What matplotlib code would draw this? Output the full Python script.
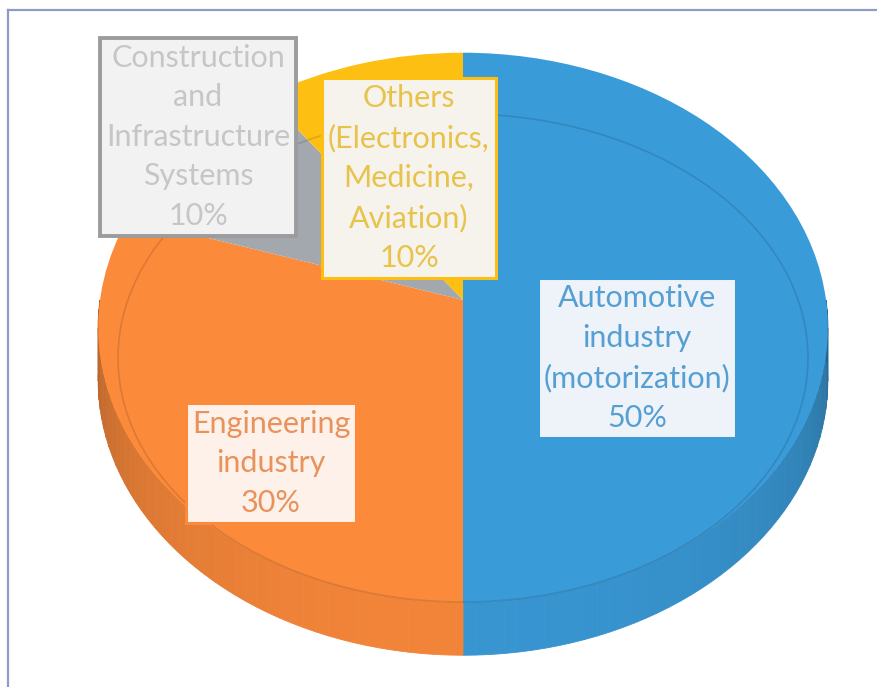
import numpy as np
import matplotlib.pyplot as plt
from matplotlib.lines import Line2D
from matplotlib.patches import Ellipse
from matplotlib.transforms import Transform

# market share of the material by application sector
sectors = ["Automotive\nindustry\n(motorization)",
           "Engineering\nindustry",
           "Construction\nand\nInfrastructure\nSystems",
           "Others\n(Electronics,\nMedicine,\nAviation)"]
shares = [50, 30, 10, 10]

slice_colors = ["#3a9bd9", "#fc8a3b", "#a3a8ae", "#fdbf12"]
text_colors = ["#559fd3", "#e8925c", "#c6c6c6", "#e8c34c"]
box_fills = ["#eef3f9", "#fdf1ea", "#f2f2f2", "#f6f3ec"]
box_edges = ["#3a9bd9", "#fc8a3b", "#9c9c9c", "#fdbf12"]
# label centres in pixel coordinates of the canvas
label_xy = [(637, 358), (271, 463), (198, 137), (409, 178)]

# tilted-disc geometry (pixels)
CX, CY = 463, 300       # where the disc centre lands
RX, RY = 363, 272       # half-axes before foreshortening
TILT = 0.1              # perspective strength
DEPTH = 53              # height of the side wall


class TiltedDisc(Transform):
    """Maps unit-pie coordinates onto a disc seen from above at an angle."""
    input_dims = output_dims = 2
    is_separable = False
    has_inverse = False

    def __init__(self, drop=0):
        super().__init__()
        self.drop = drop

    def transform_non_affine(self, values):
        v = np.asarray(values, float)
        x, y = v[:, 0], v[:, 1]
        s = 1.0 / (1.0 + TILT * y)
        return np.column_stack([CX + RX * x * s, CY - RY * y * s + self.drop])


def shade(color, f):
    rgb = np.array(plt.matplotlib.colors.to_rgb(color))
    return tuple(np.clip(rgb * f, 0, 1))


plt.rcParams["font.family"] = ["Lato", "DejaVu Sans"]

fig = plt.figure(figsize=(8.78, 6.87), dpi=100)
ax = fig.add_axes([0, 0, 1, 1])

wedges, _ = ax.pie(shares, colors=slice_colors, startangle=90, counterclock=False,
                   radius=1, wedgeprops=dict(linewidth=0), normalize=True)
top = TiltedDisc()
low = TiltedDisc(DEPTH)
for w in wedges:
    w.set_transform(top + ax.transData)
    w.set_zorder(3)

# side wall: only the front half (180..360 deg) can be seen
for w, c in zip(wedges, slice_colors):
    t1, t2 = w.theta1 % 360, w.theta2 % 360
    if t2 <= t1:
        t2 += 360
    for off in (0, 360, -360):
        a, b = max(t1 + off, 180), min(t2 + off, 360)
        if b <= a:
            continue
        steps = np.linspace(a, b, int((b - a) / 2) + 2)
        for s0, s1 in zip(steps[:-1], steps[1:]):
            th = np.radians(np.linspace(s0, s1, 6))
            rim = np.column_stack([np.cos(th), np.sin(th)])
            upper = top.transform(rim)
            lower = low.transform(rim[::-1])
            poly = np.vstack([upper, lower])
            mid = np.radians((s0 + s1) / 2)
            col = shade(c, 0.6 + 0.36 * abs(np.sin(mid)) ** 0.5)
            ax.fill(poly[:, 0], poly[:, 1], color=col, lw=0.6, ec=col, zorder=1)

# faint bevel line on the top face
ax.add_patch(Ellipse((463, 358), 690, 488, fill=False, ec="#000000",
                     alpha=0.12, lw=1.2, zorder=4))

labels = []
for name, pct, xy, tc, fc, ec in zip(sectors, shares, label_xy, text_colors,
                                     box_fills, box_edges):
    t = ax.text(xy[0], xy[1], f"{name}\n{pct}%", ha="center", va="center",
                fontsize=22, color=tc, linespacing=1.5, zorder=6,
                bbox=dict(boxstyle="square,pad=0.2", fc=fc, ec=ec,
                          lw=2.8 if ec == "#9c9c9c" else 2.2))
    labels.append(t)

# small callout tip under the "Others" label, pointing at the disc centre
ox, oy = label_xy[3]
ax.fill([ox + 38, ox + 52, ox + 50], [oy + 99, oy + 99, oy + 117],
        color=slice_colors[3], lw=0, zorder=5)

ax.set_aspect("auto")
ax.set_xlim(0, 878)
ax.set_ylim(687, 0)
ax.axis("off")

# outer frame (only top and left edges fall inside the canvas)
fig.add_artist(Line2D([8 / 878, 1], [1 - 10 / 687, 1 - 10 / 687],
                      color="#8e9bc6", lw=1.6, transform=fig.transFigure))
fig.add_artist(Line2D([8 / 878, 8 / 878], [0, 1 - 10 / 687],
                      color="#8e9bc6", lw=1.6, transform=fig.transFigure))

fig.savefig("out.png", dpi=100)
